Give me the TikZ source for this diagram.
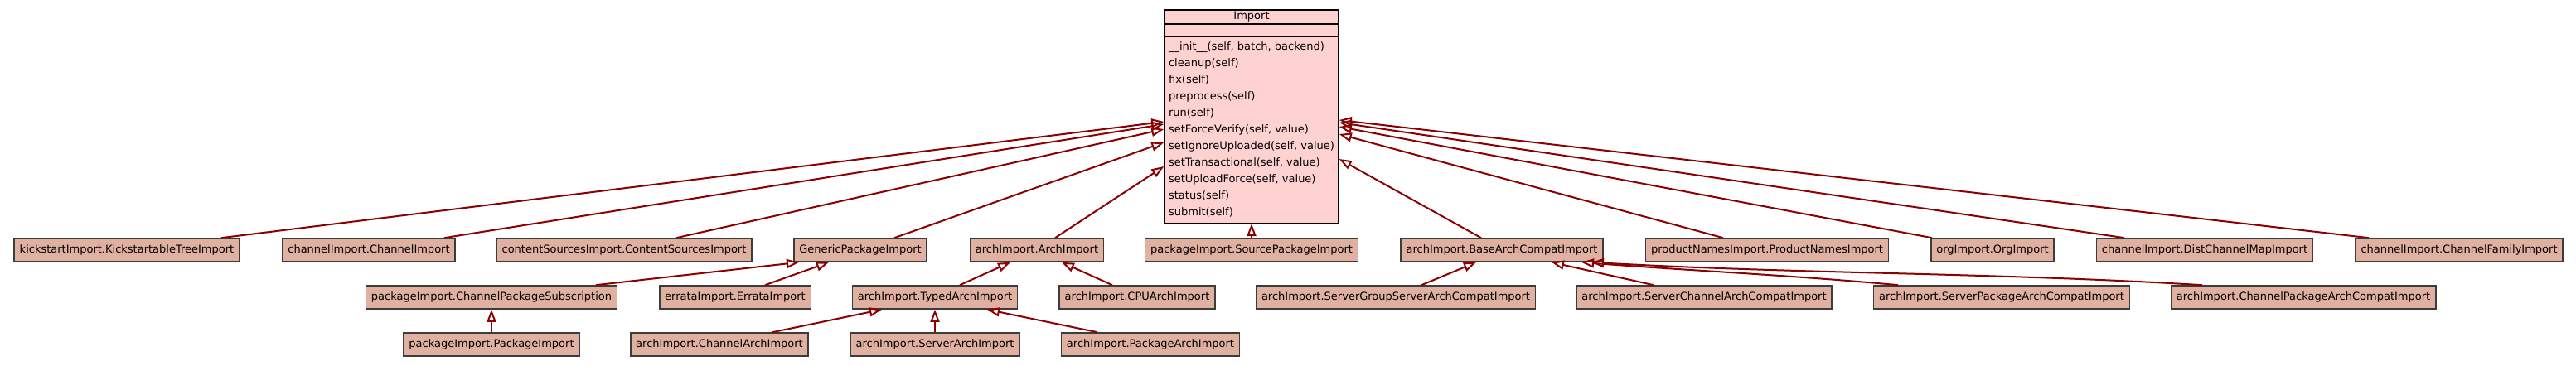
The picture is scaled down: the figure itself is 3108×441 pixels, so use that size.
\documentclass[tikz,border=0pt]{standalone}
\usepackage{fontspec}
\setmainfont{DejaVu Sans}
\usepackage{tikz}
\usetikzlibrary{shapes}
\usetikzlibrary{arrows.meta}
\usetikzlibrary{calc}
\definecolor{edgered}{RGB}{139,0,0}
\definecolor{classfill}{RGB}{224,176,160}
\definecolor{basefill}{RGB}{255,210,210}
\definecolor{classline}{RGB}{60,60,60}
\tikzstyle{classbox}=[rectangle, draw=classline, fill=classfill, line width=0.8pt, inner xsep=3.25pt, inner ysep=0pt, minimum height=14pt]
\tikzstyle{basebox}=[rectangle split, rectangle split parts=3, draw=black, fill=basefill, line width=0.8pt, inner xsep=2.5pt, inner ysep=0.8pt, rectangle split empty part height=2.3pt, rectangle split empty part depth=0pt]
\tikzstyle{inherits}=[-{Triangle[open,length=7.5pt,width=5.5pt]}, edgered, line width=1pt]

\begin{document}
\begin{tikzpicture}[x=0.5pt, y=-0.5pt, font=\fontsize{6.5}{10}\selectfont]
        \useasboundingbox (0,0) rectangle (3108,441);
        % base class
        \node[basebox, anchor=north] at (1510,11) (import) {Import\nodepart{second}\nodepart{third}\begin{tabular}{@{}l@{}}
            \_\_init\_\_(self, batch, backend)\\
            cleanup(self)\\
            fix(self)\\
            preprocess(self)\\
            run(self)\\
            setForceVerify(self, value)\\
            setIgnoreUploaded(self, value)\\
            setTransactional(self, value)\\
            setUploadForce(self, value)\\
            status(self)\\
            submit(self)
          \end{tabular}};
        % first row
        \node[classbox] at (153,302) (kickstart) {kickstartImport.KickstartableTreeImport};
        \node[classbox] at (445,302) (chanimport) {channelImport.ChannelImport};
        \node[classbox] at (753,302) (contentsrc) {contentSourcesImport.ContentSourcesImport};
        \node[classbox] at (1038,302) (generic) {GenericPackageImport};
        \node[classbox] at (1251,302) (archimport) {archImport.ArchImport};
        \node[classbox] at (1510,302) (srcpkg) {packageImport.SourcePackageImport};
        \node[classbox] at (1812,302) (basecompat) {archImport.BaseArchCompatImport};
        \node[classbox] at (2132,302) (prodnames) {productNamesImport.ProductNamesImport};
        \node[classbox] at (2404,302) (orgimport) {orgImport.OrgImport};
        \node[classbox] at (2660,302) (distmap) {channelImport.DistChannelMapImport};
        \node[classbox] at (2967,302) (chanfamily) {channelImport.ChannelFamilyImport};
        % second row
        \node[classbox] at (593,359) (chansub) {packageImport.ChannelPackageSubscription};
        \node[classbox] at (887,359) (errata) {errataImport.ErrataImport};
        \node[classbox] at (1128,359) (typedarch) {archImport.TypedArchImport};
        \node[classbox] at (1372,359) (cpuarch) {archImport.CPUArchImport};
        \node[classbox] at (1684,359) (sgcompat) {archImport.ServerGroupServerArchCompatImport};
        \node[classbox] at (2056,359) (sccompat) {archImport.ServerChannelArchCompatImport};
        \node[classbox] at (2415,359) (spcompat) {archImport.ServerPackageArchCompatImport};
        \node[classbox] at (2779,359) (cpcompat) {archImport.ChannelPackageArchCompatImport};
        % third row
        \node[classbox] at (593,416) (pkgimport) {packageImport.PackageImport};
        \node[classbox] at (868,416) (chanarch) {archImport.ChannelArchImport};
        \node[classbox] at (1128,416) (serverarch) {archImport.ServerArchImport};
        \node[classbox] at (1388,416) (pkgarch) {archImport.PackageArchImport};

        % edges into Import
        \draw[inherits] ($(kickstart.north)+(114,0)$) -- ($(import.north west)+(0,136)$);
        \draw[inherits] ($(chanimport.north)+(91,0)$) -- ($(import.north west)+(0,139)$);
        \draw[inherits] ($(contentsrc.north)+(63,0)$) -- ($(import.north west)+(0,145)$);
        \draw[inherits] ($(generic.north)+(41,0)$) -- ($(import.north west)+(0,161)$);
        \draw[inherits] ($(archimport.north)+(22,0)$) -- ($(import.north west)+(0,190)$);
        \draw[inherits] (srcpkg.north) -- (import.south);
        \draw[inherits] ($(basecompat.north)+(-25,0)$) -- ($(import.north east)+(0,181)$);
        \draw[inherits] ($(prodnames.north)+(-53,0)$) -- ($(import.north east)+(0,151)$);
        \draw[inherits] ($(orgimport.north)+(-73,0)$) -- ($(import.north east)+(0,142)$);
        \draw[inherits] ($(distmap.north)+(-97,0)$) -- ($(import.north east)+(0,137)$);
        \draw[inherits] ($(chanfamily.north)+(-109,0)$) -- ($(import.north east)+(0,134)$);
        % second level
        \draw[inherits] ($(chansub.north)+(126,0)$) -- ($(generic.south)+(-74,0)$);
        \draw[inherits] ($(errata.north)+(36,0)$) -- ($(generic.south)+(-38,0)$);
        \draw[inherits] ($(typedarch.north)+(30,0)$) -- ($(archimport.south)+(-32,0)$);
        \draw[inherits] ($(cpuarch.north)+(-30,0)$) -- ($(archimport.south)+(30,0)$);
        \draw[inherits] ($(sgcompat.north)+(31,0)$) -- ($(basecompat.south)+(-31,0)$);
        \draw[inherits] ($(sccompat.north)+(-61,0)$) -- ($(basecompat.south)+(60,0)$);
        \draw[inherits] ($(spcompat.north)+(-125,0)$) .. controls +(-130,-12) and +(130,10) .. ($(basecompat.south)+(96,0)$);
        \draw[inherits] ($(cpcompat.north)+(-122,0)$) .. controls +(-250,-15) and +(250,14) .. ($(basecompat.south)+(108,0)$);
        % third level
        \draw[inherits] (pkgimport.north) -- (chansub.south);
        \draw[inherits] ($(chanarch.north)+(64,0)$) -- ($(typedarch.south)+(-64,0)$);
        \draw[inherits] (serverarch.north) -- (typedarch.south);
        \draw[inherits] ($(pkgarch.north)+(-64,0)$) -- ($(typedarch.south)+(63,0)$);
      \end{tikzpicture}
\end{document}
